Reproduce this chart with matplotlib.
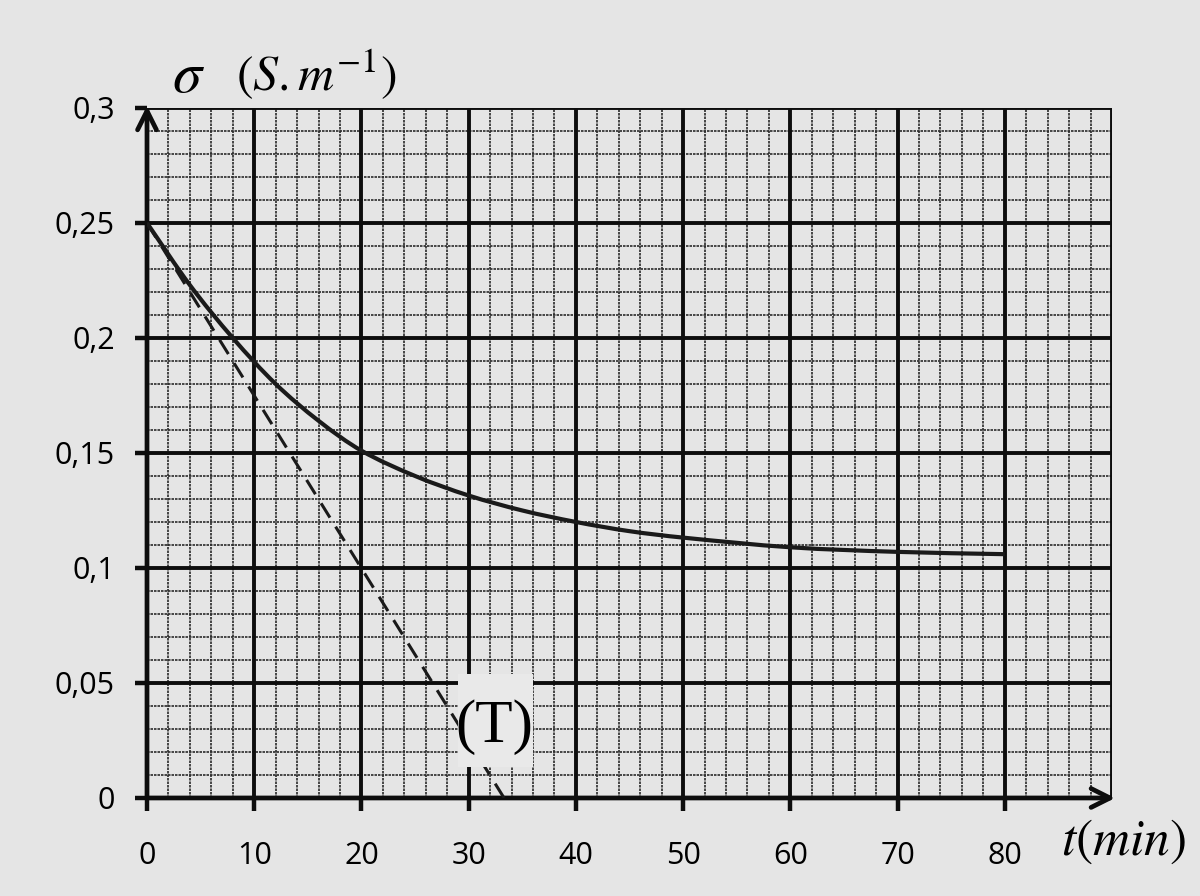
import matplotlib
matplotlib.use("Agg")
import matplotlib.pyplot as plt
from matplotlib.path import Path
from matplotlib.patches import PathPatch
import numpy as np

# ---- data ----
t_min = [0, 4, 8, 12, 16, 20, 25, 30, 35, 40, 45, 50, 60, 70, 80]
sigma = [0.250, 0.223, 0.200, 0.180, 0.164, 0.151, 0.140, 0.1315, 0.125,
         0.120, 0.116, 0.1132, 0.109, 0.107, 0.106]
tangent_t = [0, 33.3]
tangent_sigma = [0.25, 0.0]
x_ticks = [0, 10, 20, 30, 40, 50, 60, 70, 80]
x_tick_labels = ["0", "10", "20", "30", "40", "50", "60", "70", "80"]
y_ticks = [0, 0.05, 0.1, 0.15, 0.2, 0.25, 0.3]
y_tick_labels = ["0", "0,05", "0,1", "0,15", "0,2", "0,25", "0,3"]
tangent_label = "(T)"

bg = "#e5e5e5"
plt.rcParams['mathtext.fontset'] = 'stix'
fig = plt.figure(figsize=(12, 8.96), dpi=100, facecolor=bg)
ax = fig.add_axes([0.1225, 0.1094, 0.8042, 0.7701], facecolor=bg)
ax.set_xlim(0, 90)
ax.set_ylim(0, 0.3)

# minor grid (graph paper)
for xv in np.arange(0, 90.01, 2):
    if abs(xv % 10) > 1e-6:
        ax.axvline(xv, color="#2a2a2a", lw=1.2, ls=(0, (1.5, 0.6)), zorder=1)
for yv in np.arange(0, 0.3001, 0.01):
    if abs(round(yv / 0.01)) % 5 != 0:
        ax.axhline(yv, color="#2a2a2a", lw=1.2, ls=(0, (1.5, 0.6)), zorder=1)
# major grid
for xv in range(10, 91, 10):
    ax.axvline(xv, color="#0d0d0d", lw=2.8, zorder=2)
for yv in y_ticks[1:]:
    ax.axhline(yv, color="#0d0d0d", lw=2.8, zorder=2)

for s in ax.spines.values():
    s.set_visible(False)

# axes lines with arrows
ax.annotate("", xy=(0, 0.301), xytext=(0, 0), xycoords="data",
            arrowprops=dict(arrowstyle="->", lw=3.4, color="#0d0d0d",
                            mutation_scale=34, shrinkA=0, shrinkB=0),
            annotation_clip=False, zorder=5)
ax.annotate("", xy=(90.3, 0), xytext=(0, 0), xycoords="data",
            arrowprops=dict(arrowstyle="->", lw=3.4, color="#0d0d0d",
                            mutation_scale=34, shrinkA=0, shrinkB=0),
            annotation_clip=False, zorder=5)

ax.set_xticks(x_ticks)
ax.set_xticklabels(x_tick_labels, family="Open Sans", fontsize=22)
ax.set_yticks(y_ticks)
ax.set_yticklabels(y_tick_labels, family="Open Sans", fontsize=22)
ax.tick_params(axis="both", direction="out", length=9, width=3.2, color="#0d0d0d")
ax.tick_params(axis="x", pad=22)
ax.tick_params(axis="y", pad=14)

# smooth curve through the read points (Catmull-Rom -> cubic Bezier)
px = np.array(t_min, float)
py = np.array(sigma, float)
verts = [(px[0], py[0])]
codes = [Path.MOVETO]
n = len(px)
for i in range(n - 1):
    p0 = np.array([px[max(i - 1, 0)], py[max(i - 1, 0)]])
    p1 = np.array([px[i], py[i]])
    p2 = np.array([px[i + 1], py[i + 1]])
    p3 = np.array([px[min(i + 2, n - 1)], py[min(i + 2, n - 1)]])
    h = p2[0] - p1[0]
    m1 = (p2[1] - p0[1]) / (p2[0] - p0[0]) if i > 0 else (p2[1] - p1[1]) / h
    m2 = (p3[1] - p1[1]) / (p3[0] - p1[0]) if i < n - 2 else (p2[1] - p1[1]) / h
    c1 = (p1[0] + h / 3.0, p1[1] + m1 * h / 3.0)
    c2 = (p2[0] - h / 3.0, p2[1] - m2 * h / 3.0)
    verts += [c1, c2, tuple(p2)]
    codes += [Path.CURVE4] * 3
ax.add_patch(PathPatch(Path(verts, codes), facecolor="none", edgecolor="#1a1a1a",
                       lw=3.0, zorder=6, capstyle="butt"))

ax.plot(tangent_t, tangent_sigma, color="#1a1a1a", lw=2.2, ls=(0, (5.5, 3.5)), zorder=6)

# (T) label with a blank patch that hides the paper grid
ax.fill_between([29.0, 36.0], 0.0135, 0.054, color="#e9e9e9", lw=0, zorder=6.5)
ax.text(32.4, 0.031, tangent_label, family="Liberation Serif", fontsize=44,
        ha="center", va="center", zorder=7)

fig.text(0.143, 0.916, r"$\sigma$", fontsize=42, ha="left", va="center")
fig.text(0.197, 0.916, r"$(S.m^{-1})$", fontsize=36, ha="left", va="center")
fig.text(0.936, 0.061, r"$t(min)$", fontsize=37, ha="center", va="center")

fig.savefig("out.png", dpi=100, facecolor=bg)
